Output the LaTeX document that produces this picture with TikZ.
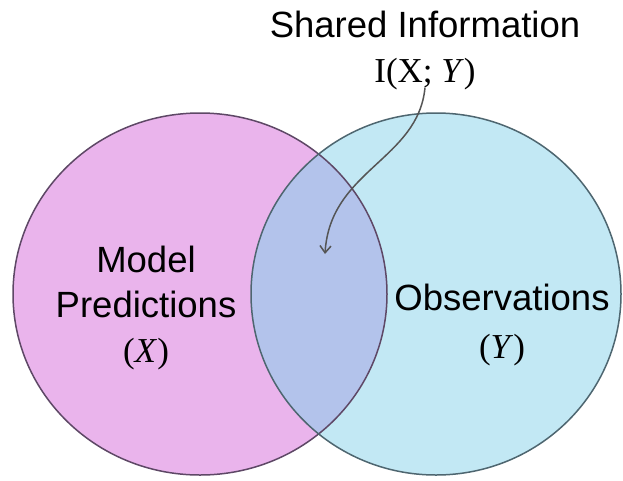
\documentclass[tikz,border=0pt]{standalone}
\usepackage{fontspec}
\usepackage{tikz}
\usetikzlibrary{arrows.meta}

\newfontfamily\vennsans{Liberation Sans}
\newfontfamily\vennserif{Liberation Serif}

\definecolor{predfill}{HTML}{EAB4EC}
\definecolor{obsfill}{HTML}{C2E8F4}
\definecolor{sharedfill}{HTML}{B3C3EB}
\definecolor{predline}{HTML}{5E4866}
\definecolor{obsline}{HTML}{4E6670}
\definecolor{arrowgray}{HTML}{555555}

\tikzset{
  setlabel/.style={align=center, inner sep=2pt, font=\vennsans\fontsize{36.5}{45}\selectfont},
}

\begin{document}
\begin{tikzpicture}[x=1pt,y=-1pt]
      \fill[white] (0,0) rectangle (623,480);
      \useasboundingbox (0,0) rectangle (623,480);
      % sets
      \fill[predfill] (200,294) ellipse [x radius=187pt, y radius=181pt];
      \fill[obsfill] (436,294) ellipse [x radius=185pt, y radius=181pt];
      \begin{scope}
        \clip (200,294) ellipse [x radius=187pt, y radius=181pt];
        \fill[sharedfill] (436,294) ellipse [x radius=185pt, y radius=181pt];
      \end{scope}
      \draw[predline, line width=1.5pt] (200,294) ellipse [x radius=187pt, y radius=181pt];
      \draw[obsline, line width=1.5pt] (436,294) ellipse [x radius=185pt, y radius=181pt];
      % labels
      \node[setlabel] (pred) at (146,308) {Model\\Predictions\\{\vennserif\fontsize{35}{45}\selectfont(\textit{X})}};
      \node[setlabel, font=\vennsans\fontsize{36.5}{48}\selectfont] (obs) at (502,325) {Observations\\{\vennserif\fontsize{35}{48}\selectfont(\textit{Y})}};
      \node[setlabel] (shared) at (425,50) {Shared Information\\{\vennserif\fontsize{35}{45}\selectfont I(X; \textit{Y})}};
      % arrow into the overlap
      \coordinate (overlap) at (325,254);
      \draw[arrowgray, line width=1.5pt, -{Straight Barb[length=7pt,width=11pt]}]
        ([yshift=4pt]shared.south) .. controls (418,160) and (330,170) .. (overlap);
    \end{tikzpicture}
\end{document}
